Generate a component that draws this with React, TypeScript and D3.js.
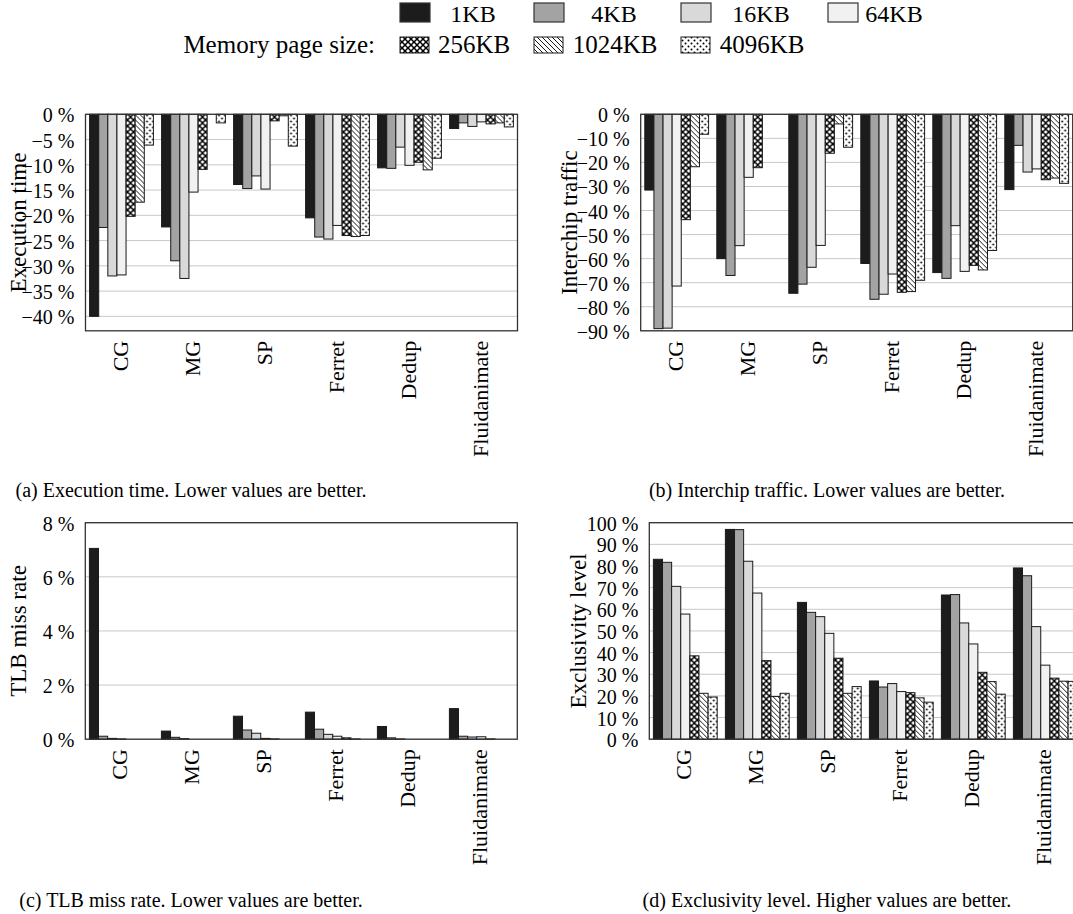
import React, { useRef, useEffect } from 'react'
import { select, scaleBand, scaleLinear } from 'd3'

// categories and series
const categories = ['CG', 'MG', 'SP', 'Ferret', 'Dedup', 'Fluidanimate']
const pageSizes = ['1KB', '4KB', '16KB', '64KB', '256KB', '1024KB', '4096KB']

// values per category, one entry per page size (in %)
const execTime = [
  [-40.0, -22.4, -32.0, -31.8, -20.2, -17.4, -6.1],
  [-22.3, -29.0, -32.5, -15.4, -10.9, 0, -1.7],
  [-13.9, -14.7, -12.2, -14.8, -1.3, -0.3, -6.3],
  [-20.5, -24.3, -24.7, -22.0, -24.0, -24.2, -24.0],
  [-10.6, -10.7, -6.5, -10.1, -9.5, -11.0, -8.7],
  [-2.8, -1.7, -2.4, -1.5, -1.9, -1.7, -2.5],
]
const interchipTraffic = [
  [-31.5, -89.1, -88.9, -71.4, -43.8, -21.8, -8.3],
  [-60.0, -67.0, -54.6, -26.2, -22.2, 0, 0],
  [-74.4, -70.6, -63.6, -54.5, -16.2, -4.0, -13.7],
  [-62.0, -76.9, -74.8, -66.4, -74.0, -73.7, -69.0],
  [-65.8, -68.2, -46.3, -65.3, -62.8, -64.7, -56.6],
  [-31.3, -12.9, -24.0, -22.7, -27.2, -26.5, -28.7],
]
const tlbMissRate = [
  [7.05, 0.11, 0.03, 0.01, 0, 0, 0],
  [0.3, 0.07, 0.02, 0, 0, 0, 0],
  [0.85, 0.34, 0.22, 0.03, 0.01, 0, 0],
  [1.0, 0.37, 0.18, 0.11, 0.05, 0.01, 0],
  [0.47, 0.05, 0.01, 0, 0, 0, 0],
  [1.13, 0.11, 0.08, 0.09, 0.01, 0, 0],
]
const exclusivity = [
  [83.1, 81.7, 70.6, 57.8, 38.5, 21.2, 19.5],
  [96.9, 96.8, 82.2, 67.5, 36.3, 19.7, 21.2],
  [63.2, 58.6, 56.6, 48.9, 37.4, 21.2, 24.3],
  [26.9, 24.1, 25.7, 22.0, 21.5, 19.1, 17.1],
  [66.6, 66.8, 53.7, 44.0, 30.9, 26.6, 20.8],
  [79.1, 75.5, 52.0, 34.2, 28.2, 26.8, 26.7],
]

// tick labels
const execTicks = [0, -5, -10, -15, -20, -25, -30, -35, -40]
const trafficTicks = [0, -10, -20, -30, -40, -50, -60, -70, -80, -90]
const tlbTicks = [0, 2, 4, 6, 8]
const exclTicks = [0, 10, 20, 30, 40, 50, 60, 70, 80, 90, 100]

const FONT = 'Liberation Serif, DejaVu Serif, serif'
const PLOT_W = 432
const PLOT_H = 216.5
const seriesFill = ['#1c1c1c', '#a3a3a3', '#d9d9d9', '#f1f1f1', 'url(#crosshatch)', 'url(#nwlines)', 'url(#dots)']

const fmt = v => (v < 0 ? '\u2212' + Math.abs(v) : String(v)) + ' %'

const BarPanel = ({ values, ticks, domain, left, top, title, titleX, caption, captionX, captionY }) => {
  const gRef = useRef(null)

  useEffect(() => {
    const g = select(gRef.current)
    g.selectAll('*').remove()

    const x0 = scaleBand().domain(categories).range([left, left + PLOT_W])
    const x1 = scaleBand().domain(pageSizes).range([0, x0.bandwidth()]).paddingOuter(0.45)
    const y = scaleLinear().domain(domain).range([top + PLOT_H, top])

    // grid lines
    g.append('g')
      .selectAll('line')
      .data(ticks)
      .join('line')
      .attr('x1', left)
      .attr('x2', left + PLOT_W)
      .attr('y1', d => y(d))
      .attr('y2', d => y(d))
      .attr('stroke', '#c8c8c8')
      .attr('stroke-width', 1)

    // bars
    const groups = g.append('g')
      .selectAll('g')
      .data(values)
      .join('g')
      .attr('transform', (d, i) => `translate(${x0(categories[i])},0)`)

    groups.selectAll('rect')
      .data(d => d)
      .join('rect')
      .attr('x', (d, i) => x1(pageSizes[i]))
      .attr('width', x1.bandwidth())
      .attr('y', d => y(Math.max(0, d)))
      .attr('height', d => Math.abs(y(d) - y(0)))
      .attr('fill', (d, i) => seriesFill[i])
      .attr('stroke', '#1a1a1a')
      .attr('stroke-width', 1)

    // frame
    g.append('rect')
      .attr('x', left)
      .attr('y', top)
      .attr('width', PLOT_W)
      .attr('height', PLOT_H)
      .attr('fill', 'none')
      .attr('stroke', '#333')
      .attr('stroke-width', 1.3)

    // y tick labels
    g.append('g')
      .selectAll('text')
      .data(ticks)
      .join('text')
      .attr('x', left - 11)
      .attr('y', d => y(d) + 1)
      .attr('text-anchor', 'end')
      .attr('dominant-baseline', 'central')
      .attr('font-size', 20)
      .attr('font-family', FONT)
      .text(d => fmt(d))

    // x labels, rotated
    g.append('g')
      .selectAll('text')
      .data(categories)
      .join('text')
      .attr('transform', d => `translate(${x0(d) + x0.bandwidth() / 2 + 6},${top + PLOT_H + 10}) rotate(-90)`)
      .attr('text-anchor', 'end')
      .attr('font-size', 22)
      .attr('font-family', FONT)
      .text(d => d)

    // axis title
    g.append('text')
      .attr('transform', `translate(${titleX},${top + PLOT_H / 2}) rotate(-90)`)
      .attr('text-anchor', 'middle')
      .attr('font-size', 23)
      .attr('font-family', FONT)
      .text(title)

    // caption
    g.append('text')
      .attr('x', captionX)
      .attr('y', captionY)
      .attr('text-anchor', 'middle')
      .attr('font-size', 20)
      .attr('font-family', FONT)
      .text(caption)
  }, [values, ticks, domain, left, top, title, titleX, caption, captionX, captionY])

  return <g ref={gRef} />
}

const Legend = () => {
  const gRef = useRef(null)

  useEffect(() => {
    const g = select(gRef.current)
    g.selectAll('*').remove()

    const row1 = pageSizes.slice(0, 4)
    const row2 = pageSizes.slice(4)
    const swatchX = [400, 534, 681, 828]
    const labelX = [473, 614, 761, 894]

    g.selectAll('.sw1')
      .data(row1)
      .join('rect')
      .attr('class', 'sw1')
      .attr('x', (d, i) => swatchX[i])
      .attr('y', 3)
      .attr('width', 30)
      .attr('height', 19)
      .attr('fill', (d, i) => seriesFill[i])
      .attr('stroke', '#333')
      .attr('stroke-width', 1.2)

    g.selectAll('.lb1')
      .data(row1)
      .join('text')
      .attr('class', 'lb1')
      .attr('x', (d, i) => labelX[i])
      .attr('y', 22)
      .attr('text-anchor', 'middle')
      .attr('font-size', 24)
      .attr('font-family', FONT)
      .text(d => d)

    g.selectAll('.sw2')
      .data(row2)
      .join('rect')
      .attr('class', 'sw2')
      .attr('x', (d, i) => swatchX[i])
      .attr('y', 37)
      .attr('width', 29)
      .attr('height', 16)
      .attr('fill', (d, i) => seriesFill[i + 4])
      .attr('stroke', '#1a1a1a')
      .attr('stroke-width', 1)

    g.selectAll('.lb2')
      .data(row2)
      .join('text')
      .attr('class', 'lb2')
      .attr('x', (d, i) => labelX[i] + 1)
      .attr('y', 53)
      .attr('text-anchor', 'middle')
      .attr('font-size', 25)
      .attr('font-family', FONT)
      .text(d => d)

    g.append('text')
      .attr('x', 375)
      .attr('y', 53)
      .attr('text-anchor', 'end')
      .attr('font-size', 25)
      .attr('font-family', FONT)
      .text('Memory page size:')
  }, [])

  return <g ref={gRef} />
}

const App = () => {
  return (
    <div>
      <style>{'body { margin: 0; background: white; }'}</style>
      <svg width={1073} height={914} style={{ display: 'block', backgroundColor: 'white' }}>
        <defs>
          <pattern id="crosshatch" patternUnits="userSpaceOnUse" width="6" height="6">
            <rect width="6" height="6" fill="white" />
            <path d="M0,0 L6,6 M6,0 L0,6" stroke="black" strokeWidth="1.5" />
          </pattern>
          <pattern id="nwlines" patternUnits="userSpaceOnUse" width="5" height="5">
            <rect width="5" height="5" fill="white" />
            <path d="M0,0 L5,5 M-1,4 L1,6 M4,-1 L6,1" stroke="black" strokeWidth="0.9" />
          </pattern>
          <pattern id="dots" patternUnits="userSpaceOnUse" width="6" height="6">
            <rect width="6" height="6" fill="white" />
            <circle cx="1.5" cy="1.5" r="1" fill="black" />
            <circle cx="4.5" cy="4.5" r="1" fill="black" />
          </pattern>
        </defs>
        <Legend />
        <BarPanel values={execTime} ticks={execTicks} domain={[-42.86, 0]} left={85.5} top={114.3}
          title="Execution time" titleX={26} caption="(a) Execution time. Lower values are better."
          captionX={191} captionY={497} />
        <BarPanel values={interchipTraffic} ticks={trafficTicks} domain={[-90, 0]} left={640.7} top={114.3}
          title="Interchip traffic" titleX={577} caption="(b) Interchip traffic. Lower values are better."
          captionX={827} captionY={497} />
        <BarPanel values={tlbMissRate} ticks={tlbTicks} domain={[0, 8]} left={85.3} top={522.7}
          title="TLB miss rate" titleX={26} caption="(c) TLB miss rate. Lower values are better."
          captionX={191} captionY={907} />
        <BarPanel values={exclusivity} ticks={exclTicks} domain={[0, 100]} left={649.3} top={522.7}
          title="Exclusivity level" titleX={586} caption="(d) Exclusivity level. Higher values are better."
          captionX={827} captionY={907} />
      </svg>
    </div>
  )
}

export default App
